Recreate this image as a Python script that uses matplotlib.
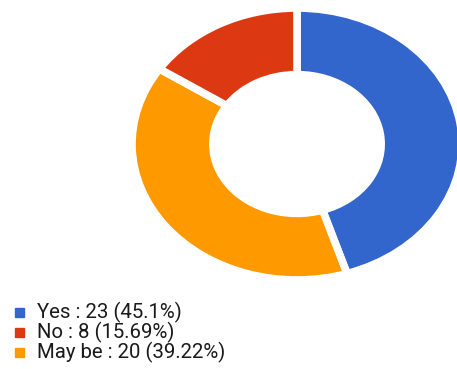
import matplotlib
matplotlib.use("Agg")
import matplotlib.pyplot as plt
from matplotlib.patches import Rectangle

labels = ["Yes", "No", "May be"]
counts = [23, 8, 20]
percents = ["45.1%", "15.69%", "39.22%"]
colors = ["#3366CC", "#DC3912", "#FF9900"]
# clockwise drawing order from 12 o'clock
draw_order = [0, 2, 1]

W, H = 457, 369
fig = plt.figure(figsize=(W / 100, H / 100), dpi=100)
cx, cy, rx, ry = 297, 144, 165, 136
ax = fig.add_axes([(cx - rx) / W, (H - cy - ry) / H, 2 * rx / W, 2 * ry / H])
ax.pie([counts[i] for i in draw_order],
       colors=[colors[i] for i in draw_order],
       startangle=90, counterclock=False, radius=1.0,
       wedgeprops=dict(width=0.49, edgecolor="white", linewidth=5.5))
ax.set_aspect("auto")
ax.set_xlim(-1, 1)
ax.set_ylim(-1, 1)
ax.axis("off")

y0, dy = 312, 20
for i, lab in enumerate(labels):
    yc = y0 + i * dy
    fig.patches.append(Rectangle((15 / W, (H - yc - 4.5) / H), 9 / W, 9 / H,
                                 transform=fig.transFigure, color=colors[i]))
    fig.text(37 / W, (H - yc) / H, f"{lab} : {counts[i]} ({percents[i]})",
             fontsize=14.7, family="Roboto", color="#1a1a1a", va="center", ha="left")

fig.savefig("out.png", dpi=100)
